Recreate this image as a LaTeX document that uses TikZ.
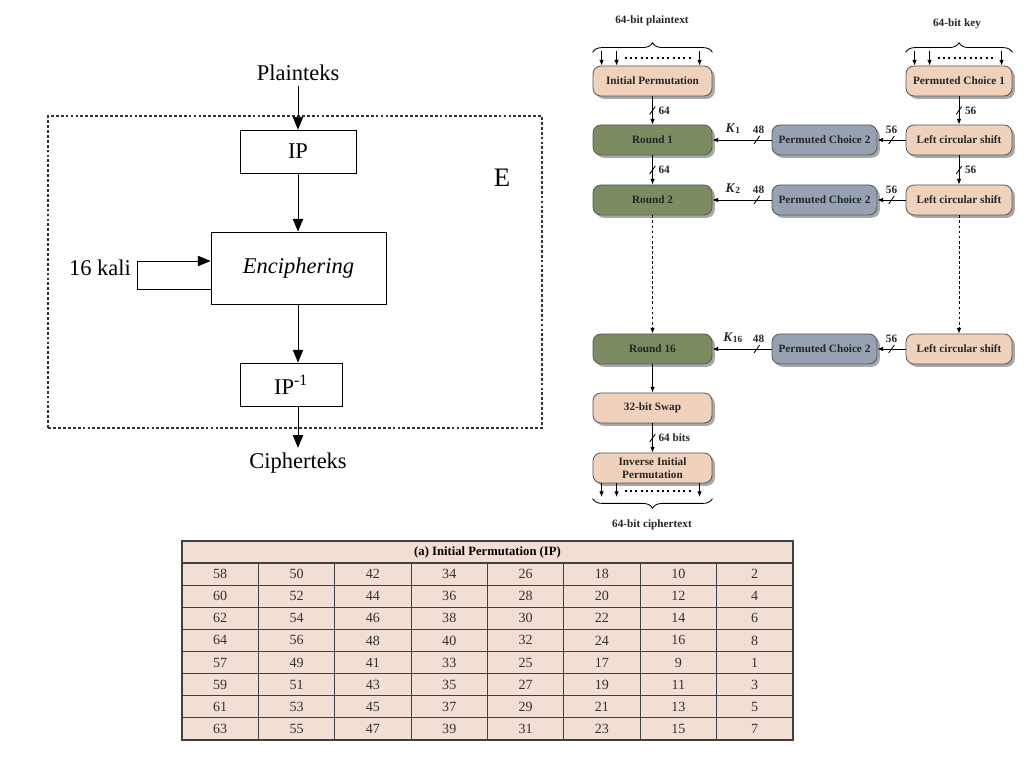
\documentclass[tikz,border=0pt]{standalone}
\usepackage{fontspec}
\setmainfont{Liberation Serif}
\usepackage{tikz}
\usetikzlibrary{calc}
\usetikzlibrary{positioning}
\usetikzlibrary{shadows}
\usetikzlibrary{arrows.meta}
\usetikzlibrary{decorations.pathreplacing}

\definecolor{PeachBox}{RGB}{240,210,188}
\definecolor{RoundGreen}{RGB}{122,140,96}
\definecolor{ChoiceBlue}{RGB}{150,162,180}
\definecolor{TablePink}{RGB}{242,222,212}

\tikzset{
  flowbox/.style={rectangle, draw=black, semithick, minimum height=1.075cm, font=\fontsize{16}{18}\selectfont},
  desbox/.style={rectangle, draw=black!65, semithick, rounded corners=0.2cm, minimum height=0.75cm, inner sep=1pt,
    font=\fontsize{8}{8.8}\selectfont\bfseries, text=black!85,
    drop shadow={shadow xshift=0.07cm, shadow yshift=-0.07cm, fill=black!45, opacity=0.75}},
  bitlabel/.style={font=\fontsize{8}{9}\selectfont\bfseries, inner sep=1pt, text=black!85},
  bigtip/.style={-{Triangle[length=0.32cm, width=0.26cm]}},
  bitdots/.style={line width=1.4pt, dash pattern=on 1.4pt off 2.4pt},
}

\newcommand{\bitslash}[1]{\draw[semithick] #1 ++(-0.07,-0.1) -- ++(0.14,0.2);}

\begin{document}
\begin{tikzpicture}

\useasboundingbox[fill=white] (0,0) rectangle (25.6,19.2);

%%% left: scheme E
\node at (7.45,17.375) (plain) {\fontsize{16}{18}\selectfont Plainteks};
\draw[black!80, thick, dash pattern=on 2pt off 1.5pt] (1.2,8.5) rectangle (13.55,16.3);
\node at (7.45,15.41) [flowbox, minimum width=2.9cm] (ip) {IP};
\node at (12.55,14.75) (elabel) {\fontsize{19}{21}\selectfont E};
\node at (7.4625,12.5) [flowbox, minimum width=4.375cm, minimum height=1.8cm] (enc) {\textit{Enciphering}};
\node at (7.275,9.5875) [flowbox, minimum width=2.55cm] (ipinv) {IP\textsuperscript{-1}};
\node at (2.5,12.5) (kali) {\fontsize{16}{18}\selectfont 16 kali};
\node at (7.45,7.625) (cipher) {\fontsize{16}{18}\selectfont Cipherteks};

\draw[semithick, bigtip] (plain) -- (ip);
\draw[semithick, bigtip] (ip) -- (ip |- enc.north);
\draw[semithick, bigtip] ([yshift=-0.525cm]enc.west) -- ++(-1.825,0) |- ([yshift=0.175cm]enc.west);
\draw[semithick, bigtip] (enc.south -| ip) -- (ipinv.north -| ip);
\draw[semithick, bigtip] (ipinv.south -| ip) -- (cipher);

%%% right: DES overview
\node at (16.3,18.675) [bitlabel] (ptlabel) {64-bit plaintext};
\node at (23.925,18.6) [bitlabel] (keylabel) {64-bit key};

\node at (16.3125,17.175) [desbox, fill=PeachBox, minimum width=2.975cm] (initperm) {Initial Permutation};
\node at (16.3125,15.7) [desbox, fill=RoundGreen, minimum width=2.975cm] (round1) {Round 1};
\node at (16.3125,14.2) [desbox, fill=RoundGreen, minimum width=2.975cm] (round2) {Round 2};
\node at (16.3125,10.475) [desbox, fill=RoundGreen, minimum width=2.975cm] (round16) {Round 16};
\node at (16.3125,9.0) [desbox, fill=PeachBox, minimum width=2.975cm] (swap) {32-bit Swap};
\node at (16.3125,7.5) [desbox, fill=PeachBox, minimum width=2.975cm, align=center] (invperm) {Inverse Initial\\Permutation};
\node at (16.3,6.075) [bitlabel] (ctlabel) {64-bit ciphertext};

\node at (20.6125,15.7) [desbox, fill=ChoiceBlue, minimum width=2.625cm] (choice1) {Permuted Choice 2};
\node at (20.6125,14.2) [desbox, fill=ChoiceBlue, minimum width=2.625cm] (choice2) {Permuted Choice 2};
\node at (20.6125,10.475) [desbox, fill=ChoiceBlue, minimum width=2.625cm] (choice16) {Permuted Choice 2};

\node at (23.975,17.175) [desbox, fill=PeachBox, minimum width=2.65cm] (pcone) {Permuted Choice 1};
\node at (23.975,15.7) [desbox, fill=PeachBox, minimum width=2.65cm] (shift1) {Left circular shift};
\node at (23.975,14.2) [desbox, fill=PeachBox, minimum width=2.65cm] (shift2) {Left circular shift};
\node at (23.975,10.475) [desbox, fill=PeachBox, minimum width=2.65cm] (shift16) {Left circular shift};

% braces and bit inputs / outputs
\draw[semithick, decorate, decoration={brace, amplitude=0.24cm}] ([yshift=0.33cm]initperm.north west) -- ([yshift=0.33cm]initperm.north east);
\draw[semithick, decorate, decoration={brace, amplitude=0.24cm}] ([yshift=0.33cm]pcone.north west) -- ([yshift=0.33cm]pcone.north east);
\draw[semithick, decorate, decoration={brace, amplitude=0.24cm}] ([yshift=-0.38cm]invperm.south east) -- ([yshift=-0.38cm]invperm.south west);
\draw[bitdots] ([xshift=0.8cm, yshift=0.18cm]initperm.north west) -- ([xshift=2.5cm, yshift=0.18cm]initperm.north west);
\draw[bitdots] ([xshift=0.8cm, yshift=0.18cm]pcone.north west) -- ([xshift=2.25cm, yshift=0.18cm]pcone.north west);
\draw[bitdots] ([xshift=0.8cm, yshift=-0.2cm]invperm.south west) -- ([xshift=2.5cm, yshift=-0.2cm]invperm.south west);

\begin{scope}[>={Latex[length=0.14cm, width=0.11cm]}, semithick]
	\foreach \dx in {0.225,0.6,2.675}
		\draw[->] ([xshift=\dx cm, yshift=0.36cm]initperm.north west) -- ([xshift=\dx cm]initperm.north west);
	\foreach \dx in {0.225,0.6,2.4}
		\draw[->] ([xshift=\dx cm, yshift=0.36cm]pcone.north west) -- ([xshift=\dx cm]pcone.north west);
	\foreach \dx in {0.225,0.6,2.675}
		\draw[->] ([xshift=\dx cm]invperm.south west) -- ([xshift=\dx cm, yshift=-0.34cm]invperm.south west);

	\draw[->] (initperm) -- (round1) node[midway, right=3pt, bitlabel] {64};
	\bitslash{($(initperm.south)!0.5!(round1.north)$)}
	\draw[->] (round1) -- (round2) node[midway, right=3pt, bitlabel] {64};
	\bitslash{($(round1.south)!0.5!(round2.north)$)}
	\draw[->, dash pattern=on 2pt off 1.6pt] (round2) -- (round16);
	\draw[->] (round16) -- (swap);
	\draw[->] (swap) -- (invperm) node[midway, right=3pt, bitlabel] {64 bits};
	\bitslash{($(swap.south)!0.5!(invperm.north)$)}

	\draw[->] (pcone) -- (shift1) node[midway, right=3pt, bitlabel] {56};
	\bitslash{($(pcone.south)!0.5!(shift1.north)$)}
	\draw[->] (shift1) -- (shift2) node[midway, right=3pt, bitlabel] {56};
	\bitslash{($(shift1.south)!0.5!(shift2.north)$)}
	\draw[->, dash pattern=on 2pt off 1.6pt] (shift2) -- (shift16);

	\draw[->] (shift1) -- (choice1) node[midway, above=3pt, bitlabel] {56};
	\bitslash{($(shift1.west)!0.5!(choice1.east)$)}
	\draw[->] (shift2) -- (choice2) node[midway, above=3pt, bitlabel] {56};
	\bitslash{($(shift2.west)!0.5!(choice2.east)$)}
	\draw[->] (shift16) -- (choice16) node[midway, above=3pt, bitlabel] {56};
	\bitslash{($(shift16.west)!0.5!(choice16.east)$)}

	\draw[->] (choice1) -- (round1) node[pos=0.22, above=3pt, bitlabel] {48} node[pos=0.65, above=3pt, bitlabel] {\fontsize{9.5}{10}\selectfont\textit{K}\textsubscript{1}};
	\bitslash{($(choice1.west)!0.25!(round1.east)$)}
	\draw[->] (choice2) -- (round2) node[pos=0.22, above=3pt, bitlabel] {48} node[pos=0.65, above=3pt, bitlabel] {\fontsize{9.5}{10}\selectfont\textit{K}\textsubscript{2}};
	\bitslash{($(choice2.west)!0.25!(round2.east)$)}
	\draw[->] (choice16) -- (round16) node[pos=0.22, above=3pt, bitlabel] {48} node[pos=0.65, above=3pt, bitlabel] {\fontsize{9.5}{10}\selectfont\textit{K}\textsubscript{16}};
	\bitslash{($(choice16.west)!0.25!(round16.east)$)}
\end{scope}

%%% bottom: IP table
\fill[TablePink] (4.55,0.7) rectangle (19.825,5.675);
\node at (12.1875,5.4) (iptitle) {\fontsize{9}{10}\selectfont\bfseries (a) Initial Permutation (IP)};
\foreach \k in {0,...,7}
	\draw[black!75, thick] (4.55,{5.125-0.553*\k}) -- (19.825,{5.125-0.553*\k});
\foreach \k in {1,...,7}
	\draw[black!75, thick] ({4.55+1.909*\k},0.7) -- ({4.55+1.909*\k},5.125);
\draw[black!75, thick] (4.55,0.7) rectangle (19.825,5.675);

\foreach \row [count=\r from 0] in {{58,50,42,34,26,18,10,2},{60,52,44,36,28,20,12,4},{62,54,46,38,30,22,14,6},{64,56,48,40,32,24,16,8},{57,49,41,33,25,17,9,1},{59,51,43,35,27,19,11,3},{61,53,45,37,29,21,13,5},{63,55,47,39,31,23,15,7}}
	\foreach \val [count=\c from 0] in \row
		\node at ({5.5045+1.909*\c},{4.8485-0.553*\r}) [font=\fontsize{10}{11}\selectfont, text=black!80] (cell-\r-\c) {\val};

\end{tikzpicture}
\end{document}
